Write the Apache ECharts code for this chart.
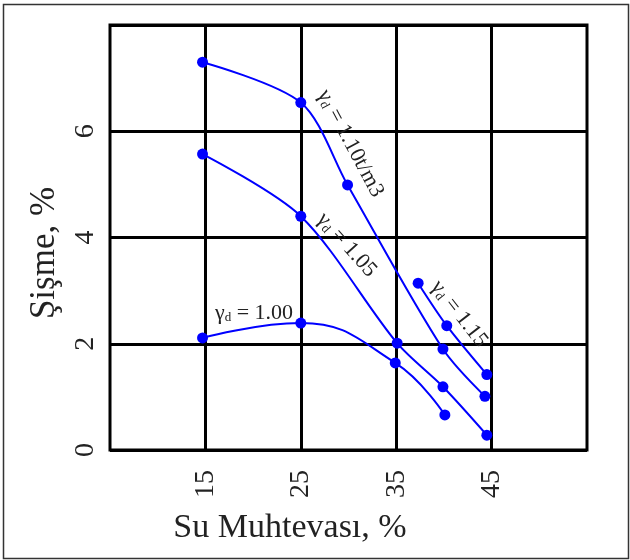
<!DOCTYPE html>
<html>
<head>
<meta charset="utf-8">
<script src="https://cdn.jsdelivr.net/npm/echarts@6/dist/echarts.min.js"></script>
<style>html,body{margin:0;padding:0;background:#fff}#c{width:630px;height:560px}</style>
</head>
<body>
<div id="c"></div>
<script>
// Data
const xTicks = [15, 25, 35, 45];
const yTicks = [0, 2, 4, 6];
const gamma110X = [14.7, 25.0, 29.9, 39.9, 44.3];
const gamma110Y = [7.30, 6.54, 4.99, 1.90, 1.01];
const gamma105X = [14.7, 25.0, 35.1, 39.9, 44.5];
const gamma105Y = [5.57, 4.40, 2.01, 1.19, 0.28];
const gamma100X = [14.7, 25.0, 34.9, 40.1];
const gamma100Y = [2.11, 2.39, 1.64, 0.66];
const gamma115X = [37.3, 40.3, 44.5];
const gamma115Y = [3.14, 2.34, 1.42];
const curveLabels = ['1.10t/m3', '1.05', '1.00', '1.15'];

const FONT = 'Liberation Serif';
const BLUE = '#0000ff';
const TXT = '#222';

function pairs(xs, ys) { return xs.map((x, i) => [x, ys[i]]); }

const rich = {
  g: { fontFamily: FONT, fontSize: 22, color: TXT },
  s: { fontFamily: FONT, fontSize: 13, color: TXT, verticalAlign: 'bottom', padding: [10, 0, 0, 0] },
  t: { fontFamily: FONT, fontSize: 22, color: TXT }
};

function labelPoint(coord, text, rot) {
  return {
    coord: coord,
    symbol: 'circle',
    symbolSize: 1,
    itemStyle: { color: 'rgba(0,0,0,0)' },
    label: {
      show: true,
      position: 'inside',
      rotate: rot,
      formatter: '{g|γ}{s|d}{t| = ' + text + '}',
      rich: rich
    }
  };
}

function curve(xs, ys, lbl, sm) {
  return {
    type: 'line',
    data: pairs(xs, ys),
    smooth: sm,
    symbol: 'circle',
    symbolSize: 11,
    z: 5,
    lineStyle: { color: BLUE, width: 2 },
    itemStyle: { color: BLUE },
    markPoint: { silent: true, data: [lbl] }
  };
}

const chart = echarts.init(document.getElementById('c'), null, { renderer: 'canvas' });
chart.setOption({
  backgroundColor: '#fff',
  animation: false,
  grid: { left: 110, top: 25, width: 477, height: 425, show: true, borderColor: '#000', borderWidth: 3, backgroundColor: 'transparent' },
  xAxis: {
    type: 'value', min: 5, max: 55,
    axisLine: { show: false },
    axisTick: { show: false },
    splitLine: { show: false },
    axisLabel: {
      customValues: xTicks,
      rotate: 90, margin: 20,
      fontFamily: FONT, fontSize: 28, color: TXT
    }
  },
  yAxis: {
    type: 'value', min: 0, max: 8, interval: 2,
    axisLine: { show: false },
    axisTick: { show: false },
    splitLine: { show: true, lineStyle: { color: '#000', width: 3 } },
    axisLabel: {
      rotate: 90, margin: 10,
      showMaxLabel: false,
      formatter: v => (yTicks.indexOf(v) >= 0 ? String(v) : ''),
      fontFamily: FONT, fontSize: 28, color: TXT
    }
  },
  graphic: [
    { type: 'rect', shape: { x: 3.5, y: 4.5, width: 625, height: 554 }, style: { fill: 'none', stroke: '#333', lineWidth: 1.5 }, silent: true },
    { type: 'text', x: 290, y: 528, style: { text: 'Su Muhtevası, %', font: '34px "Liberation Serif"', fill: TXT, textAlign: 'center', textVerticalAlign: 'middle' } },
    { type: 'text', x: 45, y: 253, rotation: Math.PI / 2, style: { text: 'Şişme, %', font: '35px "Liberation Serif"', fill: TXT, textAlign: 'center', textVerticalAlign: 'middle' } }
  ],
  series: [
    {
      type: 'line', data: [], z: 1,
      markLine: {
        silent: true, symbol: 'none', label: { show: false },
        lineStyle: { color: '#000', width: 3, type: 'solid' },
        data: xTicks.map(v => ({ xAxis: v }))
      }
    },
    curve(gamma110X, gamma110Y, labelPoint([30.2, 5.77], curveLabels[0], -62), 0.3),
    curve(gamma105X, gamma105Y, labelPoint([29.8, 3.86], curveLabels[1], -48), 0.3),
    curve(gamma100X, gamma100Y, labelPoint([20.1, 2.58], curveLabels[2], 0), 0.45),
    curve(gamma115X, gamma115Y, labelPoint([41.6, 2.56], curveLabels[3], -52), 0.3)
  ]
});
</script>
</body>
</html>
